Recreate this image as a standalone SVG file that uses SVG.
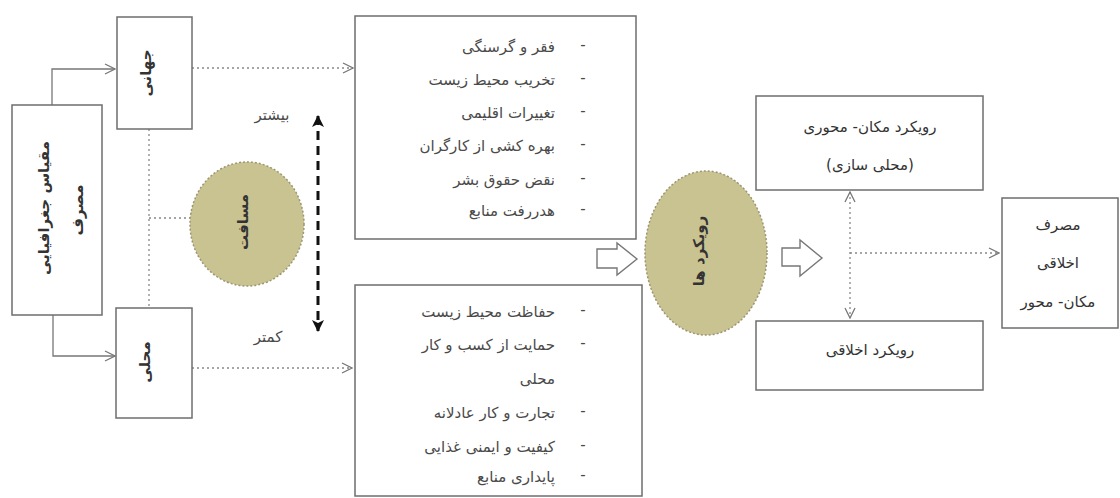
<svg xmlns="http://www.w3.org/2000/svg" width="1120" height="498" viewBox="0 0 1120 498">
<style>
.box{fill:#fff;stroke:#6e6e6e;stroke-width:1.5}
.t{font-family:"DejaVu Sans",sans-serif;font-size:15px;fill:#333}
.lt{fill:#4a4a4a}
.ln{fill:none;stroke:#777;stroke-width:1.3}
.dot{fill:none;stroke:#888;stroke-width:1.3;stroke-dasharray:2,3}
.ell{fill:#c9c291;stroke:#9c9670;stroke-width:1.5;stroke-dasharray:2,2}
.hollow{fill:#fff;stroke:#777;stroke-width:1.4}
</style>
<defs>
<marker id="open" viewBox="0 0 12 12" refX="11" refY="6" markerWidth="12" markerHeight="12" markerUnits="userSpaceOnUse" orient="auto-start-reverse">
<path d="M1,1 L11,6 L1,11" fill="none" stroke="#777" stroke-width="1.3"/>
</marker>
<marker id="solid" viewBox="0 0 14 14" refX="12" refY="7" markerWidth="14" markerHeight="14" markerUnits="userSpaceOnUse" orient="auto-start-reverse">
<path d="M1,1 L13,7 L1,13 L4,7 Z" fill="#111"/>
</marker>
</defs>
<rect width="1120" height="498" fill="#fff"/>

<g id="connectors">
<polyline class="ln" points="52,105 52,69 115,69" marker-end="url(#open)"/>
<polyline class="ln" points="53,315 53,356 115,356" marker-end="url(#open)"/>
<line class="dot" x1="149" y1="129" x2="149" y2="308"/>
<line class="dot" x1="149" y1="218" x2="190" y2="218"/>
<line class="dot" x1="192" y1="68" x2="353" y2="68" marker-end="url(#open)"/>
<line class="dot" x1="192" y1="368" x2="352" y2="368" marker-end="url(#open)"/>
<line x1="318" y1="116" x2="318" y2="331" stroke="#111" stroke-width="3" stroke-dasharray="9,6" marker-start="url(#solid)" marker-end="url(#solid)"/>
<path class="hollow" d="M597,249 L617,249 L617,243 L637,259 L617,275 L617,268 L597,268 Z"/>
<path class="hollow" d="M782,248 L800,248 L800,240 L822,258 L800,276 L800,266 L782,266 Z"/>
<line class="dot" x1="850" y1="192" x2="850" y2="318" marker-start="url(#open)" marker-end="url(#open)"/>
<line class="dot" x1="850" y1="253" x2="999" y2="253" marker-end="url(#open)"/>
</g>

<g id="node-scale">
<rect class="box" x="12" y="105" width="90" height="210"/>
<text class="t" transform="translate(49,208) rotate(-90)" text-anchor="middle" direction="rtl" font-size="16" font-weight="bold">مقیاس جغرافیایی</text>
<text class="t" transform="translate(83,210) rotate(-90)" text-anchor="middle" direction="rtl" font-size="16" font-weight="bold">مصرف</text>
</g>

<g id="node-global">
<rect class="box" x="117" y="17" width="75" height="112"/>
<text class="t" transform="translate(151,73) rotate(-90)" text-anchor="middle" direction="rtl" font-size="16" font-weight="bold">جهانی</text>
</g>

<g id="node-local">
<rect class="box" x="116" y="308" width="76" height="110"/>
<text class="t" transform="translate(150,362) rotate(-90)" text-anchor="middle" direction="rtl" font-size="16" font-weight="bold">محلی</text>
</g>

<g id="node-distance">
<ellipse class="ell" cx="247" cy="224" rx="57" ry="62"/>
<text class="t" transform="translate(248,222) rotate(-90)" text-anchor="middle" direction="rtl" font-size="17" font-weight="bold">مسافت</text>
</g>

<g id="labels">
<text class="t lt" x="272" y="120" text-anchor="middle" direction="rtl" font-size="13">بیشتر</text>
<text class="t lt" x="268" y="342" text-anchor="middle" direction="rtl" font-size="13">کمتر</text>
</g>

<g id="node-global-list">
<rect class="box" x="355" y="16" width="281" height="223"/>
<g class="t lt" text-anchor="start" direction="rtl">
<text x="555" y="52">فقر و گرسنگی</text>
<text x="555" y="85">تخریب محیط زیست</text>
<text x="555" y="118">تغییرات اقلیمی</text>
<text x="555" y="151">بهره کشی از کارگران</text>
<text x="555" y="185">نقض حقوق بشر</text>
<text x="555" y="216">هدررفت منابع</text>
</g>
<g class="t lt" text-anchor="middle">
<text x="583" y="50">-</text><text x="583" y="83">-</text><text x="583" y="116">-</text>
<text x="583" y="149">-</text><text x="583" y="183">-</text><text x="583" y="214">-</text>
</g>
</g>

<g id="node-local-list">
<rect class="box" x="355" y="285" width="287" height="211"/>
<g class="t lt" text-anchor="start" direction="rtl">
<text x="555" y="317">حفاظت محیط زیست</text>
<text x="555" y="350">حمایت از کسب و کار</text>
<text x="555" y="384">محلی</text>
<text x="555" y="418">تجارت و کار عادلانه</text>
<text x="555" y="452">کیفیت و ایمنی غذایی</text>
<text x="555" y="482">پایداری منابع</text>
</g>
<g class="t lt" text-anchor="middle">
<text x="583" y="315">-</text><text x="583" y="348">-</text><text x="583" y="416">-</text>
<text x="583" y="450">-</text><text x="583" y="480">-</text>
</g>
</g>

<g id="node-approaches">
<ellipse class="ell" cx="706" cy="253" rx="61" ry="82"/>
<text class="t" transform="translate(704,251) rotate(-90)" text-anchor="middle" direction="rtl" font-size="18" font-weight="bold">رویکرد ها</text>
</g>

<g id="node-place">
<rect class="box" x="756" y="96" width="227" height="94"/>
<text class="t" x="870" y="132" text-anchor="middle" direction="rtl" font-size="16">رویکرد مکان- محوری</text>
<text class="t" x="870" y="170" text-anchor="middle" direction="rtl" font-size="16">(محلی سازی)</text>
</g>

<g id="node-ethical">
<rect class="box" x="756" y="321" width="227" height="69"/>
<text class="t" x="870" y="355" text-anchor="middle" direction="rtl" font-size="16">رویکرد اخلاقی</text>
</g>

<g id="node-result">
<rect class="box" x="1002" y="198" width="116" height="130"/>
<text class="t" x="1058" y="230" text-anchor="middle" direction="rtl">مصرف</text>
<text class="t" x="1058" y="268" text-anchor="middle" direction="rtl">اخلاقی</text>
<text class="t" x="1058" y="307" text-anchor="middle" direction="rtl">مکان- محور</text>
</g>
</svg>
